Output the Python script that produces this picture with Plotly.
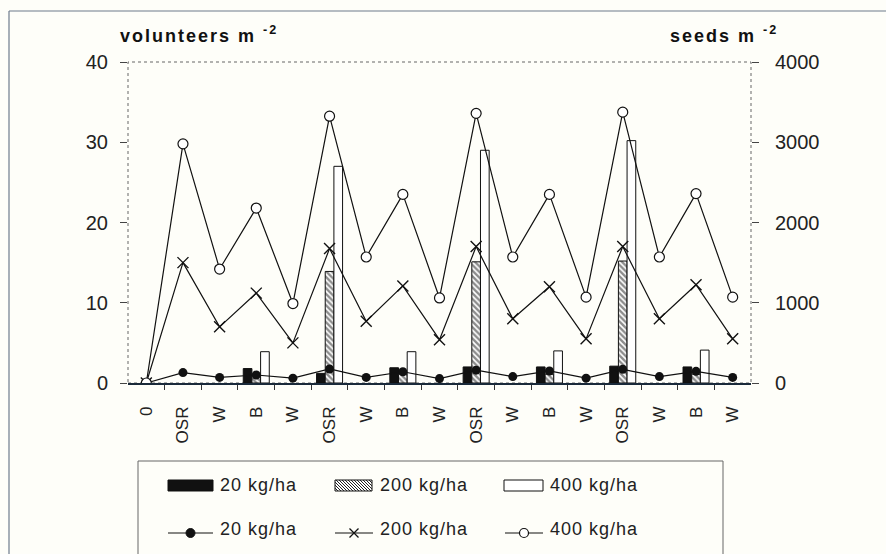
import plotly.graph_objects as go

# ---------------- data ----------------
labels = ["0", "OSR", "W", "B", "W", "OSR", "W", "B", "W", "OSR", "W", "B", "W", "OSR", "W", "B", "W"]

# volunteers m-2 (bars, left axis)
vol_20 = [None, None, None, 1.8, None, 1.2, None, 1.9, None, 2.0, None, 2.0, None, 2.1, None, 2.0, None]
vol_200 = [None, None, None, 1.0, None, 13.9, None, 1.1, None, 15.1, None, 1.1, None, 15.2, None, 1.1, None]
vol_400 = [None, None, None, 3.9, None, 27.0, None, 3.9, None, 29.0, None, 4.0, None, 30.2, None, 4.1, None]

# seeds m-2 (lines, right axis)
seeds_20 = [0, 130, 70, 100, 60, 175, 70, 140, 55, 160, 80, 150, 60, 170, 80, 145, 70]
seeds_200 = [0, 1500, 700, 1120, 500, 1675, 770, 1210, 540, 1700, 800, 1200, 550, 1700, 800, 1225, 550]
seeds_400 = [0, 2980, 1420, 2180, 990, 3325, 1570, 2350, 1060, 3360, 1570, 2350, 1070, 3375, 1570, 2360, 1070]

legend_labels = ["20 kg/ha", "200 kg/ha", "400 kg/ha"]
left_ticks = [0, 10, 20, 30, 40]
right_ticks = [0, 1000, 2000, 3000, 4000]

# ---------------- layout geometry ----------------
W, H = 886, 554
ML, MR, MT, MB = 128, 135, 62, 171
PW, PH = W - ML - MR, H - MT - MB


def px(x):
    return (x - ML) / PW


def py(y):
    return (H - MB - y) / PH


pos = list(range(len(labels)))
FONT = "Liberation Sans, Arial, sans-serif"
BG = "#fefef9"

fig = go.Figure()

fig.add_trace(go.Bar(x=pos, y=vol_20, name="20 kg/ha", marker=dict(color="#111111", line=dict(color="#111111", width=1))))
fig.add_trace(go.Bar(x=pos, y=vol_200, name="200 kg/ha",
                     marker=dict(color="white", line=dict(color="#111111", width=1),
                                 pattern=dict(shape="\\", size=4, solidity=0.6, fgcolor="#1a1a1a", bgcolor="white"))))
fig.add_trace(go.Bar(x=pos, y=vol_400, name="400 kg/ha", marker=dict(color="white", line=dict(color="#111111", width=1))))

line_style = dict(color="#111111", width=1.2)
fig.add_trace(go.Scatter(x=pos, y=seeds_20, yaxis="y2", mode="lines+markers", line=line_style,
                         marker=dict(symbol="circle", size=9, color="#111111")))
fig.add_trace(go.Scatter(x=pos, y=seeds_200, yaxis="y2", mode="lines+markers", line=line_style,
                         marker=dict(symbol="x-thin-open", size=11, color="#111111", line=dict(width=1.4, color="#111111"))))
fig.add_trace(go.Scatter(x=pos, y=seeds_400, yaxis="y2", mode="lines+markers", line=line_style,
                         marker=dict(symbol="circle", size=10, color="white", line=dict(width=1.2, color="#111111"))))

shapes = []
# figure border (left + top)
shapes.append(dict(type="line", xref="paper", yref="paper", x0=px(9), x1=px(9), y0=py(11), y1=py(570),
                   line=dict(color="#6d7b8c", width=1.2)))
shapes.append(dict(type="line", xref="paper", yref="paper", x0=px(9), x1=px(900), y0=py(11), y1=py(11),
                   line=dict(color="#6d7b8c", width=1.2)))
# dotted plot frame
shapes.append(dict(type="rect", xref="paper", yref="paper", x0=0, x1=1, y0=0, y1=1,
                   line=dict(color="#666666", width=1, dash="dot"), layer="below"))
# legend box
shapes.append(dict(type="rect", xref="paper", yref="paper", x0=px(138), x1=px(723), y0=py(461), y1=py(600),
                   line=dict(color="#666666", width=1)))

# legend swatches row 1 (bars)
sw_y0, sw_y1 = 480, 491
sw_x = [(168, 213), (335, 372), (504, 543)]
shapes.append(dict(type="rect", xref="paper", yref="paper", x0=px(sw_x[0][0]), x1=px(sw_x[0][1]),
                   y0=py(sw_y1), y1=py(sw_y0), fillcolor="#111111", line=dict(color="#111111", width=1)))
shapes.append(dict(type="rect", xref="paper", yref="paper", x0=px(sw_x[1][0]), x1=px(sw_x[1][1]),
                   y0=py(sw_y1), y1=py(sw_y0), fillcolor="white", line=dict(color="#111111", width=1)))
# hatch lines for the 200 swatch
hx0, hx1 = sw_x[1]
hh = sw_y1 - sw_y0
segs = []
k = hx0 - hh
while k < hx1:
    xa, ya = k, sw_y0
    xb, yb = k + hh, sw_y1
    if xa < hx0:
        ya = sw_y0 + (hx0 - xa)
        xa = hx0
    if xb > hx1:
        yb = sw_y1 - (xb - hx1)
        xb = hx1
    if xb > xa:
        segs.append(f"M{px(xa)},{py(ya)} L{px(xb)},{py(yb)}")
    k += 3
shapes.append(dict(type="path", xref="paper", yref="paper", path=" ".join(segs),
                   line=dict(color="#222222", width=1)))
shapes.append(dict(type="rect", xref="paper", yref="paper", x0=px(sw_x[2][0]), x1=px(sw_x[2][1]),
                   y0=py(sw_y1), y1=py(sw_y0), fillcolor="white", line=dict(color="#111111", width=1)))

# legend swatches row 2 (lines)
ly = 533
lx = [(168, 213), (335, 373), (505, 543)]
for a, b in lx:
    shapes.append(dict(type="line", xref="paper", yref="paper", x0=px(a), x1=px(b), y0=py(ly), y1=py(ly),
                       line=dict(color="#111111", width=1.2)))
mc = [(a + b) / 2 for a, b in lx]
r = 4.5
shapes.append(dict(type="circle", xref="paper", yref="paper", x0=px(mc[0] - r), x1=px(mc[0] + r),
                   y0=py(ly + r), y1=py(ly - r), fillcolor="#111111", line=dict(color="#111111", width=1)))
xr = 4.5
shapes.append(dict(type="path", xref="paper", yref="paper",
                   path=f"M{px(mc[1]-xr)},{py(ly-xr)} L{px(mc[1]+xr)},{py(ly+xr)} M{px(mc[1]-xr)},{py(ly+xr)} L{px(mc[1]+xr)},{py(ly-xr)}",
                   line=dict(color="#111111", width=1.3)))
shapes.append(dict(type="circle", xref="paper", yref="paper", x0=px(mc[2] - r), x1=px(mc[2] + r),
                   y0=py(ly + r), y1=py(ly - r), fillcolor="white", line=dict(color="#111111", width=1.2)))

annotations = []
title_style = "letter-spacing:2px"
annotations.append(dict(xref="paper", yref="paper", x=px(118), y=py(34), xanchor="left", yanchor="middle",
                        showarrow=False, text=f"<span style='{title_style}'><b>volunteers m <sup>-2</sup></b></span>",
                        font=dict(family=FONT, size=18, color="#111111")))
annotations.append(dict(xref="paper", yref="paper", x=px(668), y=py(34), xanchor="left", yanchor="middle",
                        showarrow=False, text=f"<span style='{title_style}'><b>seeds m <sup>-2</sup></b></span>",
                        font=dict(family=FONT, size=18, color="#111111")))
leg_text_x = [218, 378, 548]
for row_y in (485, 529):
    for tx, lab in zip(leg_text_x, legend_labels):
        annotations.append(dict(xref="paper", yref="paper", x=px(tx), y=py(row_y), xanchor="left", yanchor="middle",
                                showarrow=False, text=f"<span style='letter-spacing:1px'>{lab}</span>",
                                font=dict(family=FONT, size=18, color="#222222")))

fig.update_layout(
    width=W, height=H, autosize=False,
    margin=dict(l=ML, r=MR, t=MT, b=MB, pad=0),
    paper_bgcolor=BG, plot_bgcolor=BG,
    showlegend=False,
    barmode="group", bargap=0.29, bargroupgap=0,
    font=dict(family=FONT, color="#222222"),
    xaxis=dict(range=[-0.5, len(labels) - 0.5], tickmode="array", tickvals=pos, ticktext=labels,
               tickangle=-90, ticks="outside", ticklen=5, tickcolor="rgba(0,0,0,0)",
               ticklabelstandoff=10,
               tickfont=dict(family=FONT, size=17, color="#222222"),
               showgrid=False, zeroline=False, showline=True, linecolor="#1a2a3a", linewidth=1.5,
               minor=dict(tickmode="array", tickvals=[p + 0.5 for p in pos[:-1]], ticks="outside",
                          ticklen=5, tickwidth=1, tickcolor="#333333", showgrid=False),
               fixedrange=True),
    yaxis=dict(range=[0, 40], tickmode="array", tickvals=left_ticks, ticks="outside", ticklen=7,
               tickcolor="#444444", ticklabelstandoff=8,
               tickfont=dict(family=FONT, size=20, color="#222222"),
               showgrid=False, zeroline=False, showline=False),
    yaxis2=dict(range=[0, 4000], overlaying="y", side="right", tickmode="array", tickvals=right_ticks,
                ticks="outside", ticklen=7, tickcolor="#444444", ticklabelstandoff=12,
                tickfont=dict(family=FONT, size=20, color="#222222"),
                showgrid=False, zeroline=False, showline=False),
    shapes=shapes,
    annotations=annotations,
)

fig.write_html("out.html")
